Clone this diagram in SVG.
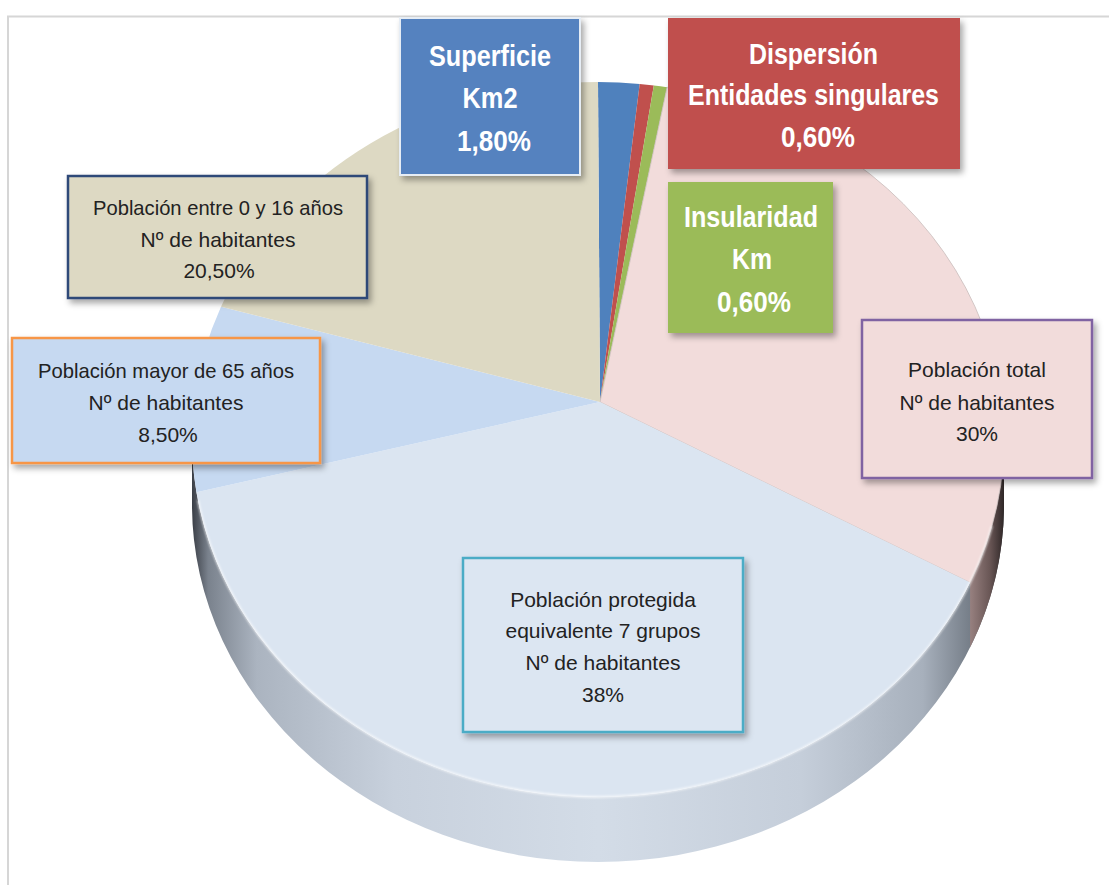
<svg xmlns="http://www.w3.org/2000/svg" width="1109" height="885" viewBox="0 0 1109 885">
  <defs>
    <style>
      .frame { stroke: #d6d6d6; stroke-width: 2; fill: none; }
      .bold { font-family: "Liberation Sans", Arial, sans-serif; font-weight: bold; font-size: 29px; fill: #ffffff; text-anchor: middle; }
      .norm { font-family: "Liberation Sans", Arial, sans-serif; font-size: 21px; fill: #222222; text-anchor: middle; }
      .box { filter: url(#shadow); }
    </style>
    <filter id="shadow" x="-10%" y="-10%" width="125%" height="130%">
      <feDropShadow dx="3" dy="4" stdDeviation="3" flood-color="#000000" flood-opacity="0.35"/>
    </filter>
    <filter id="soft" x="-5%" y="-5%" width="110%" height="110%">
      <feGaussianBlur stdDeviation="0.8"/>
    </filter>
    <linearGradient id="sideGrad" gradientUnits="userSpaceOnUse" x1="192" y1="0" x2="1004" y2="0">
      <stop offset="0" stop-color="#3a3e46"/>
      <stop offset="0.02" stop-color="#7a828d"/>
      <stop offset="0.08" stop-color="#abb4c0"/>
      <stop offset="0.25" stop-color="#c8d1dd"/>
      <stop offset="0.5" stop-color="#d3dce7"/>
      <stop offset="0.75" stop-color="#c5ceda"/>
      <stop offset="0.9" stop-color="#a7b0bc"/>
      <stop offset="0.97" stop-color="#6c747e"/>
      <stop offset="1" stop-color="#2e3238"/>
    </linearGradient>
    <linearGradient id="pinkSide" gradientUnits="userSpaceOnUse" x1="968" y1="0" x2="1004" y2="0">
      <stop offset="0" stop-color="#9c8584"/>
      <stop offset="0.6" stop-color="#6a5756"/>
      <stop offset="1" stop-color="#2f2727"/>
    </linearGradient>
  </defs>

  <!-- frame -->
  <path class="frame" d="M8,885 L8,16.5 L1109,16.5"/>

  <!-- pie -->
  <g id="pie">
    <path id="pie-side" d="M192,439.5 L192,504.5 A406,357.5 0 0 0 1004,504.5 L1004,439.5 A406,357.5 0 0 1 192,439.5 Z" fill="url(#sideGrad)"/>
    <path id="pie-side-pink" d="M1004,439.5 A406,357.5 0 0 1 970.1,582.6 L970.1,647.6 A406,357.5 0 0 0 1004,504.5 Z" fill="url(#pinkSide)"/>
    <g id="slice-superficie"><path d="M600,402 L598,82 A406,357.5 0 0 1 639.7,83.9 Z" fill="#4f81bd"/></g>
    <g id="slice-dispersion"><path d="M600,402 L639.7,83.9 A406,357.5 0 0 1 653.8,85.4 Z" fill="#c0504d"/></g>
    <g id="slice-insularidad"><path d="M600,402 L653.8,85.4 A406,357.5 0 0 1 667.1,87.2 Z" fill="#9bbb59"/></g>
    <g id="slice-total"><path d="M600,402 L667.1,87.2 A406,357.5 0 0 1 970.1,582.6 Z" fill="#f2dcdb" stroke="#c9bcbb" stroke-width="0.8"/></g>
    <g id="slice-protegida"><path d="M600,402 L970.1,582.6 A406,357.5 0 0 1 196.5,492.3 Z" fill="#dbe5f1"/></g>
    <g id="slice-mayor65"><path d="M600,402 L196.5,492.3 A406,357.5 0 0 1 221,306.7 Z" fill="#c6d9f1"/></g>
    <g id="slice-0-16"><path d="M600,402 L221,306.7 A406,357.5 0 0 1 598,82 Z" fill="#ddd9c3"/></g>
    <path d="M198,500 A406,357.5 0 0 0 992,526" fill="none" stroke="#ffffff" stroke-opacity="0.85" stroke-width="1.6" filter="url(#soft)"/>
  </g>

  <!-- label boxes -->
  <g id="node-superficie">
    <rect class="box" x="400" y="18" width="180" height="157" fill="#5482bf" stroke="#e6edf5" stroke-width="2"/>
    <text class="bold" x="490" y="65.5" textLength="122" lengthAdjust="spacingAndGlyphs">Superficie</text>
    <text class="bold" x="490" y="107.5" textLength="55" lengthAdjust="spacingAndGlyphs">Km2</text>
    <text class="bold" x="494" y="150.5" textLength="74" lengthAdjust="spacingAndGlyphs">1,80%</text>
  </g>

  <g id="node-dispersion">
    <rect class="box" x="668" y="18" width="292" height="151" fill="#c0504d"/>
    <text class="bold" x="813.5" y="63.5" textLength="129" lengthAdjust="spacingAndGlyphs">Dispersión</text>
    <text class="bold" x="813.5" y="105" textLength="251" lengthAdjust="spacingAndGlyphs">Entidades singulares</text>
    <text class="bold" x="818" y="147" textLength="74" lengthAdjust="spacingAndGlyphs">0,60%</text>
  </g>

  <g id="node-insularidad">
    <rect class="box" x="668" y="182" width="165" height="151" fill="#9bbb59"/>
    <text class="bold" x="751" y="227" textLength="134" lengthAdjust="spacingAndGlyphs">Insularidad</text>
    <text class="bold" x="752" y="268.5" textLength="40" lengthAdjust="spacingAndGlyphs">Km</text>
    <text class="bold" x="754" y="312" textLength="74" lengthAdjust="spacingAndGlyphs">0,60%</text>
  </g>

  <g id="node-0-16">
    <rect class="box" x="68" y="176" width="299" height="122" fill="#ddd9c3" stroke="#2e4a78" stroke-width="2.5"/>
    <text class="norm" x="218" y="215" textLength="250" lengthAdjust="spacingAndGlyphs">Población entre 0 y 16 años</text>
    <text class="norm" x="218" y="247">Nº de habitantes</text>
    <text class="norm" x="219" y="278">20,50%</text>
  </g>

  <g id="node-mayor65">
    <rect class="box" x="12" y="338" width="308" height="125" fill="#c6d9f1" stroke="#f79646" stroke-width="2.5"/>
    <text class="norm" x="166" y="378" textLength="256" lengthAdjust="spacingAndGlyphs">Población mayor de 65 años</text>
    <text class="norm" x="166" y="410">Nº de habitantes</text>
    <text class="norm" x="168" y="442">8,50%</text>
  </g>

  <g id="node-total">
    <rect class="box" x="862" y="320" width="230" height="158" fill="#f2dcdb" stroke="#8064a2" stroke-width="2.5"/>
    <text class="norm" x="977" y="377">Población total</text>
    <text class="norm" x="977" y="410">Nº de habitantes</text>
    <text class="norm" x="977" y="441">30%</text>
  </g>

  <g id="node-protegida">
    <rect class="box" x="463" y="558" width="280" height="174" fill="#dce6f2" stroke="#4bacc6" stroke-width="2.5"/>
    <text class="norm" x="603" y="607">Población protegida</text>
    <text class="norm" x="603" y="638">equivalente 7 grupos</text>
    <text class="norm" x="603" y="670">Nº de habitantes</text>
    <text class="norm" x="603" y="702">38%</text>
  </g>

  <g id="connectors"/>
</svg>
